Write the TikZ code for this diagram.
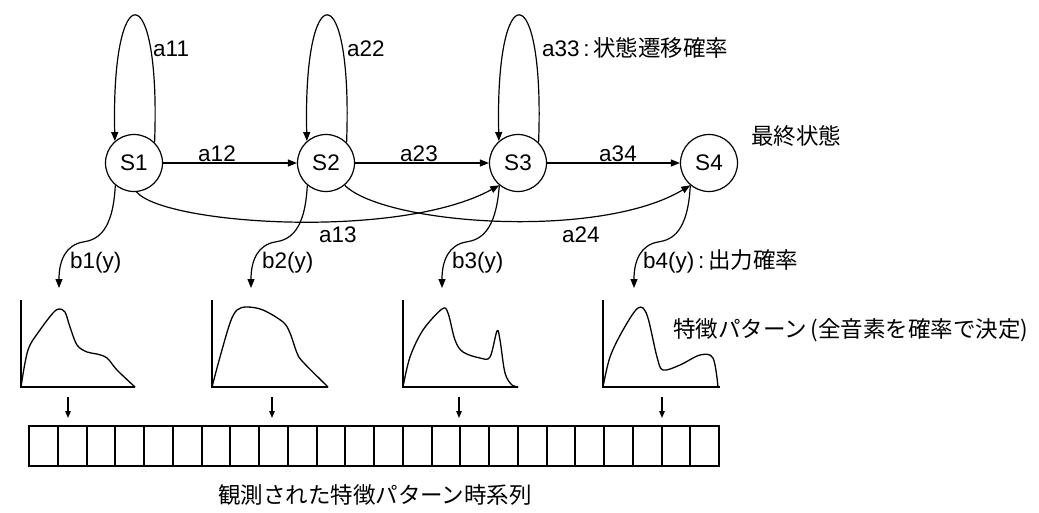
\documentclass[tikz,border=0pt]{standalone}
\usepackage{fontspec}
\setmainfont{Liberation Sans}
\newfontfamily\jp{Noto Sans CJK JP}
\usetikzlibrary{arrows.meta}
\begin{document}
\begin{tikzpicture}[x=1pt,y=-1pt,
  every node/.style={font=\fontsize{22.5}{26}\selectfont, inner sep=0pt},
  st/.style={circle,draw,line width=1.2pt,minimum size=57pt},
  arr/.style={line width=1.2pt,-{Triangle[length=9pt,width=7pt]}},
  sarr/.style={line width=1.2pt,-{Triangle[length=7pt,width=5.5pt]}},
  ln/.style={line width=1.2pt},
  crv/.style={line width=1.3pt,line join=round,line cap=round}]
\useasboundingbox (0,0) rectangle (1039,512);

% states
\node[st] (S1) at (134,163) {S1};
\node[st] (S2) at (326,163) {S2};
\node[st] (S3) at (518,163) {S3};
\node[st] (S4) at (709,163) {S4};

% self loops
\foreach \i/\c in {1/134,2/326,3/518}
  \draw[arr] (S\i.45) .. controls ({\c+27},-26) and ({\c-23},-26) .. (S\i.131);

% forward transitions
\draw[arr] (S1) -- (S2);
\draw[arr] (S2) -- (S3);
\draw[arr] (S3) -- (S4);
\draw[arr] (S1.275) .. controls (165,225) and (400,240) .. (S3.230);
\draw[arr] (S2.310) .. controls (385,225) and (600,240) .. (S4.230);

% transition labels
\node[anchor=base west] (la11) at (153,56) {a11};
\node[anchor=base west] (la22) at (347,56) {a22};
\node[anchor=base west] (la33) at (542,56) {a33\,:\,{\jp 状態遷移確率}};
\node[anchor=base] (la12) at (217,161) {a12};
\node[anchor=base] (la23) at (419,161) {a23};
\node[anchor=base] (la34) at (618,161) {a34};
\node[anchor=base west] (la13) at (319,242) {a13};
\node[anchor=base west] (la24) at (562,242) {a24};
\node (lfinal) at (796,136) {\jp 最終状態};

% output probability curves
\foreach \i/\d in {1/0,2/192,3/383,4/575}{
  \coordinate (t\i) at ({59+\d},288);
  \draw[arr] (S\i.230) .. controls ({113+\d},232) and ({97+\d},240) .. ({83+\d},242)
     .. controls ({66+\d},245) and ({59+\d},260) .. (t\i);
}
\node[anchor=base west] (lb1) at (70,268) {b1(y)};
\node[anchor=base west] (lb2) at (262,268) {b2(y)};
\node[anchor=base west] (lb3) at (452,268) {b3(y)};
\node[anchor=base west] (lb4) at (643,268) {b4(y)\,:\,{\jp 出力確率}};

% graphs: axes
\foreach \a/\b in {21/135,212/328,403/518,603/720}
  \draw[ln] (\a,300) -- (\a,387) -- (\b,387);

% graph curves
\draw[crv] plot[smooth,tension=0.55] coordinates {(21,387) (28,350) (40,330) (53,313) (59,309) (65,312) (70,327) (77,345) (87,352) (97,354) (107,358) (117,370) (135,387)};
\draw[crv] plot[smooth,tension=0.55] coordinates {(212,387) (220,357) (230,323) (237,310) (247,307) (263,310) (283,322) (290,333) (297,353) (303,362) (328,387)};
\draw[crv] plot[smooth,tension=0.55] coordinates {(403,387) (410,357) (423,330) (442,309) (448,313) (455,340) (463,352) (480,358) (490,357) (497,331) (500,340) (505,373) (512,385) (518,387)};
\draw[crv] plot[smooth,tension=0.55] coordinates {(603,387) (610,357) (623,330) (638,308) (647,315) (657,357) (663,370) (680,365) (700,355) (713,358) (718,387)};

\node[anchor=west] (lpat) at (673,330) {\jp 特徴パターン\,(全音素を確率で決定)};

% down arrows
\foreach \i/\x in {1/68,2/272,3/459,4/662}{
  \coordinate (d\i a) at (\x,397);
  \coordinate (d\i b) at (\x,418);
  \draw[sarr] (d\i a) -- (d\i b);
}

% observed sequence
\draw[ln] (29,426) rectangle (719,466);
\foreach \k in {1,...,23}{
  \pgfmathsetmacro{\xx}{29+round(\k*28.75)}
  \draw[ln] (\xx,426) -- (\xx,466);
}

\node (lseq) at (375,495) {\jp 観測された特徴パターン時系列};
\end{tikzpicture}
\end{document}
